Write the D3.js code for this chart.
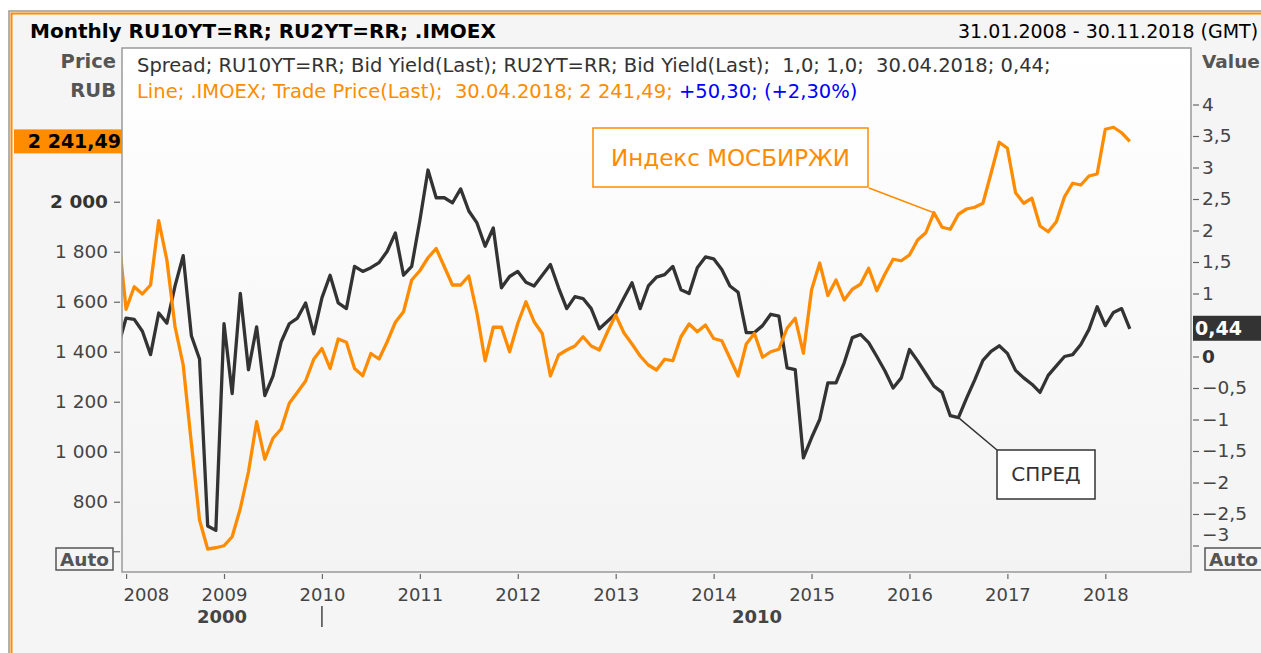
<!DOCTYPE html>
<html>
<head>
<meta charset="utf-8">
<script src="https://cdn.jsdelivr.net/npm/d3@7"></script>
<style>
body { margin: 0; background: #fff; }
svg text { font-family: "DejaVu Sans", Verdana, sans-serif; white-space: pre; }
</style>
</head>
<body>
<svg id="chart" width="1261" height="653"></svg>
<script>
// month index 0 = Jan 2008, -1 = Dec 2007 (clipped at the left edge)
var months = d3.range(-1, 124);

var imoex = [1890,
  1570, 1660, 1631, 1667, 1924, 1767, 1500, 1347, 1034, 727, 611, 616,
  624, 660, 773, 920, 1120, 970, 1054, 1091, 1194, 1238, 1283, 1370,
  1413, 1333, 1451, 1438, 1333, 1304, 1393, 1371, 1440, 1518, 1560, 1687,
  1724, 1776, 1813, 1740, 1667, 1667, 1703, 1554, 1364, 1498, 1498, 1400,
  1513, 1600, 1520, 1473, 1303, 1387, 1407, 1423, 1460, 1423, 1407, 1480,
  1547, 1476, 1431, 1383, 1347, 1327, 1370, 1364, 1460, 1511, 1480, 1507,
  1453, 1444, 1374, 1303, 1431, 1473, 1378, 1400, 1410, 1494, 1534, 1394,
  1647, 1755, 1625, 1687, 1607, 1650, 1670, 1734, 1644, 1711, 1770, 1764,
  1787, 1847, 1876, 1956, 1898, 1890, 1950, 1971, 1978, 1994, 2114, 2238,
  2214, 2036, 1994, 2014, 1903, 1880, 1920, 2020, 2074, 2067, 2103, 2111,
  2290, 2298, 2276, 2241.49];

var spread = [0.15,
  0.61, 0.59, 0.40, 0.03, 0.69, 0.53, 1.12, 1.60, 0.33, -0.04, -2.69, -2.76,
  0.52, -0.59, 1.00, -0.21, 0.47, -0.62, -0.31, 0.23, 0.52, 0.61, 0.85, 0.36,
  0.93, 1.29, 0.85, 0.76, 1.43, 1.35, 1.41, 1.49, 1.67, 1.96, 1.29, 1.43,
  2.16, 2.96, 2.52, 2.52, 2.44, 2.66, 2.31, 2.12, 1.75, 2.04, 1.09, 1.27,
  1.35, 1.18, 1.12, 1.29, 1.46, 1.09, 0.76, 0.95, 0.92, 0.76, 0.44, 0.56,
  0.68, 0.93, 1.17, 0.76, 1.12, 1.26, 1.30, 1.43, 1.06, 1.00, 1.41, 1.58,
  1.55, 1.38, 1.12, 1.02, 0.38, 0.38, 0.49, 0.67, 0.64, -0.18, -0.21, -1.61,
  -1.29, -1.00, -0.42, -0.42, -0.10, 0.30, 0.35, 0.22, 0.00, -0.23, -0.50, -0.34,
  0.11, -0.07, -0.27, -0.47, -0.57, -0.94, -0.97, -0.66, -0.37, -0.06, 0.08, 0.17,
  0.05, -0.22, -0.34, -0.44, -0.57, -0.30, -0.15, 0.00, 0.03, 0.19, 0.43, 0.79,
  0.49, 0.70, 0.76, 0.44];

var years = [2008, 2009, 2010, 2011, 2012, 2013, 2014, 2015, 2016, 2017, 2018];
var priceTicks = [2200, 2000, 1800, 1600, 1400, 1200, 1000, 800];
var valueTicks = [4, 3.5, 3, 2.5, 2, 1.5, 1, 0, -0.5, -1, -1.5, -2, -2.5, -3];

var title = 'Monthly RU10YT=RR; RU2YT=RR; .IMOEX';
var dateRange = '31.01.2008 - 30.11.2018 (GMT)';
var legend1 = 'Spread; RU10YT=RR; Bid Yield(Last); RU2YT=RR; Bid Yield(Last);  1,0; 1,0;  30.04.2018; 0,44;';
var legend2a = 'Line; .IMOEX; Trade Price(Last);  30.04.2018; 2 241,49; ';
var legend2b = '+50,30; (+2,30%)';

var ru = d3.formatLocale({decimal: ',', thousands: ' ', grouping: [3], currency: ['', '']});
var fmtPrice = ru.format(',.0f');
var fmtValue = function(d) { return ru.format('.1~f')(d); };

var orange = '#ff8c00';
var dark = '#333333';

var plot = {left: 122, right: 1191, top: 48, bottom: 572};

var svg = d3.select('#chart');

var defs = svg.append('defs');
var grad = defs.append('linearGradient').attr('id', 'bg').attr('x1', 0).attr('y1', 0).attr('x2', 0).attr('y2', 1);
grad.append('stop').attr('offset', '0%').attr('stop-color', '#ffffff');
grad.append('stop').attr('offset', '100%').attr('stop-color', '#f3f3f3');
defs.append('clipPath').attr('id', 'clip')
  .append('rect')
  .attr('x', plot.left).attr('y', plot.top)
  .attr('width', plot.right - plot.left).attr('height', plot.bottom - plot.top);
// the 2 200 label is half hidden behind the last-price marker
defs.append('clipPath').attr('id', 'clip2200')
  .append('rect').attr('x', 0).attr('y', 154).attr('width', 122).attr('height', 30);

// outer panel
svg.append('rect').attr('x', 9).attr('y', 11).attr('width', 1262).attr('height', 660)
  .style('fill', '#f5f5f5').style('stroke', '#999').style('stroke-width', 1.5);
svg.append('path').attr('d', 'M11.5,660 V13.5 H1270')
  .style('fill', 'none').style('stroke', orange).style('stroke-width', 2);

svg.append('rect')
  .attr('x', plot.left).attr('y', plot.top)
  .attr('width', plot.right - plot.left).attr('height', plot.bottom - plot.top)
  .style('fill', 'url(#bg)');

var x = d3.scaleLinear().domain([-0.5, 130.5]).range([plot.left, plot.right]);
var yL = d3.scaleLinear().domain([519, 2615]).range([plot.bottom, plot.top]);
var yR = d3.scaleLinear().domain([-3.421, 4.897]).range([plot.bottom, plot.top]);

// header
svg.append('text').attr('x', 30).attr('y', 38).text(title)
  .style('font-size', '20px').style('font-weight', 'bold').style('fill', '#000');
svg.append('text').attr('x', 958).attr('y', 38).text(dateRange)
  .style('font-size', '19px').style('fill', '#000');
svg.append('text').attr('x', 116).attr('y', 68).attr('text-anchor', 'end').text('Price')
  .style('font-size', '19.5px').style('font-weight', 'bold').style('fill', '#555');
svg.append('text').attr('x', 116).attr('y', 97).attr('text-anchor', 'end').text('RUB')
  .style('font-size', '19.5px').style('font-weight', 'bold').style('fill', '#555');
svg.append('text').attr('x', 1202).attr('y', 68).text('Value')
  .style('font-size', '18.5px').style('font-weight', 'bold').style('fill', '#555');

// axes
var leftAxis = svg.append('g').attr('transform', 'translate(120,0)')
  .call(d3.axisLeft(yL).tickValues(priceTicks).tickFormat(fmtPrice).tickSize(6).tickPadding(6));
var rightAxis = svg.append('g').attr('transform', 'translate(1193,0)')
  .call(d3.axisRight(yR).tickValues(valueTicks).tickFormat(fmtValue).tickSize(6).tickPadding(3));
var bottomAxis = svg.append('g').attr('transform', 'translate(0,574)')
  .call(d3.axisBottom(x).tickValues(years.map(function(y) { return (y - 2008) * 12; }))
    .tickFormat(function(d) { return 2008 + d / 12; }).tickSize(5).tickPadding(9));

[leftAxis, rightAxis, bottomAxis].forEach(function(g) {
  g.select('.domain').remove();
  g.selectAll('.tick line').style('stroke', '#666').style('stroke-width', 1.2);
  g.selectAll('.tick text').style('font-family', '"DejaVu Sans", Verdana, sans-serif')
    .style('font-size', '18.5px').style('fill', '#444');
});
bottomAxis.selectAll('.tick text').style('font-size', '18px');
leftAxis.selectAll('.tick text').filter(function(d) { return d === 2000; })
  .style('font-weight', 'bold').style('fill', '#333');
leftAxis.selectAll('.tick').filter(function(d) { return d === 2200; })
  .select('text').attr('clip-path', 'url(#clip2200)');
rightAxis.selectAll('.tick text').filter(function(d) { return d === 0; })
  .style('font-weight', 'bold').style('fill', '#333');
rightAxis.selectAll('.tick text').filter(function(d) { return d === -3; })
  .attr('y', -11);
bottomAxis.selectAll('.tick text').filter(function(d) { return d === 0; })
  .attr('text-anchor', 'start').attr('x', plot.left + 1 - x(0));

// second row of the time axis
svg.append('text').attr('x', 222).attr('y', 623).attr('text-anchor', 'middle').text('2000')
  .style('font-size', '18px').style('font-weight', 'bold').style('fill', '#444');
svg.append('text').attr('x', 757).attr('y', 623).attr('text-anchor', 'middle').text('2010')
  .style('font-size', '18px').style('font-weight', 'bold').style('fill', '#444');
svg.append('line').attr('x1', x(24)).attr('x2', x(24)).attr('y1', 606).attr('y2', 627)
  .style('stroke', '#444').style('stroke-width', 1.5);

// Auto boxes
[{x: 56}, {x: 1205}].forEach(function(b) {
  svg.append('rect').attr('x', b.x).attr('y', 548).attr('width', 57).attr('height', 22)
    .style('fill', 'none').style('stroke', '#555').style('stroke-width', 1.5);
  svg.append('text').attr('x', b.x + 28.5).attr('y', 566).attr('text-anchor', 'middle').text('Auto')
    .style('font-size', '18.5px').style('font-weight', 'bold').style('fill', '#555');
});
svg.append('line').attr('x1', 113).attr('x2', 120).attr('y1', yL(600)).attr('y2', yL(600))
  .style('stroke', '#666').style('stroke-width', 1.2);

// series
var lines = svg.append('g').attr('clip-path', 'url(#clip)');
var priceLine = d3.line()
  .x(function(d, i) { return x(months[i]); })
  .y(function(d) { return yL(d); });
var spreadLine = d3.line()
  .x(function(d, i) { return x(months[i]); })
  .y(function(d) { return yR(d); });

lines.append('path').datum(spread).attr('d', spreadLine)
  .style('fill', 'none').style('stroke', dark).style('stroke-width', 3.3).style('stroke-linejoin', 'round');
lines.append('path').datum(imoex).attr('d', priceLine)
  .style('fill', 'none').style('stroke', orange).style('stroke-width', 3.3).style('stroke-linejoin', 'round');

// plot frame
svg.append('rect')
  .attr('x', plot.left).attr('y', plot.top)
  .attr('width', plot.right - plot.left).attr('height', plot.bottom - plot.top)
  .style('fill', 'none').style('stroke', '#999').style('stroke-width', 1.5);

// legend
svg.append('text').attr('x', 137).attr('y', 72).text(legend1)
  .style('font-size', '19.5px').style('fill', '#333');
var l2 = svg.append('text').attr('x', 137).attr('y', 98).style('font-size', '19.5px');
l2.append('tspan').text(legend2a).style('fill', orange);
l2.append('tspan').text(legend2b).style('fill', '#0000ff');

// last value markers
var lastPrice = imoex[imoex.length - 1];
var lastSpread = spread[spread.length - 1];
svg.append('rect').attr('x', 14).attr('y', yL(lastPrice) - 12).attr('width', 108).attr('height', 24)
  .style('fill', orange);
svg.append('text').attr('x', 121).attr('y', yL(lastPrice) + 7).attr('text-anchor', 'end')
  .text(ru.format(',.2f')(lastPrice))
  .style('font-size', '19px').style('font-weight', 'bold').style('fill', '#000');
svg.append('rect').attr('x', 1193).attr('y', yR(lastSpread) - 13).attr('width', 70).attr('height', 25)
  .style('fill', dark);
svg.append('text').attr('x', 1195).attr('y', yR(lastSpread) + 6)
  .text(ru.format('.2f')(lastSpread))
  .style('font-size', '19px').style('font-weight', 'bold').style('fill', '#fff');

// annotations
var ia = 99, sa = 102;
svg.append('line').attr('x1', 869).attr('y1', 188).attr('x2', x(ia)).attr('y2', yL(imoex[ia + 1]))
  .style('stroke', orange).style('stroke-width', 1.5);
svg.append('rect').attr('x', 593).attr('y', 128).attr('width', 275).attr('height', 59)
  .style('fill', '#fff').style('stroke', orange).style('stroke-width', 1.5);
svg.append('text').attr('x', 730.5).attr('y', 166).attr('text-anchor', 'middle').text('Индекс МОСБИРЖИ')
  .style('font-size', '23px').style('fill', orange);

svg.append('line').attr('x1', 997).attr('y1', 450).attr('x2', x(sa)).attr('y2', yR(spread[sa + 1]))
  .style('stroke', dark).style('stroke-width', 1.5);
svg.append('rect').attr('x', 997).attr('y', 450).attr('width', 98).attr('height', 49)
  .style('fill', '#fff').style('stroke', dark).style('stroke-width', 1.5);
svg.append('text').attr('x', 1046).attr('y', 481).attr('text-anchor', 'middle').text('СПРЕД')
  .style('font-size', '20px').style('fill', dark);
</script>
</body>
</html>
